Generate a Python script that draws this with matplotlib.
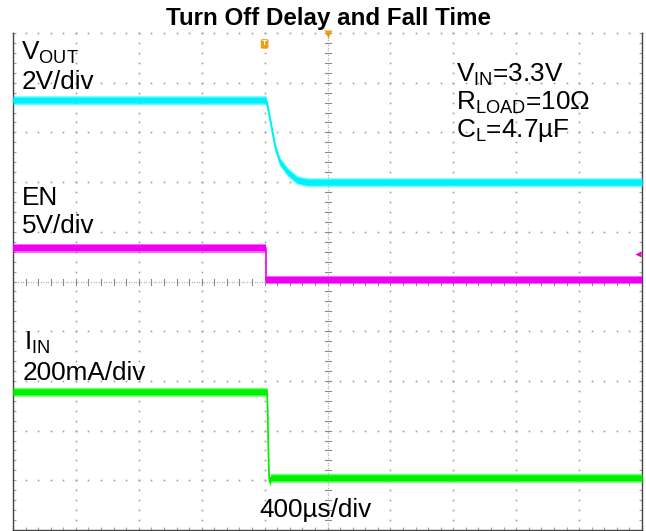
import numpy as np
import matplotlib
matplotlib.use("Agg")
import matplotlib.pyplot as plt

plt.rcParams['font.family'] = ['Liberation Sans', 'DejaVu Sans']
plt.rcParams['mathtext.default'] = 'regular'

# ---------------- data (time in µs, 400 µs/div; levels in screen divisions) -------------
title = "Turn Off Delay and Fall Time"
time_per_div = 400
t_start, t_end = -1600, 2400
n_xdiv, n_ydiv = 10, 10

vout_t = [-1600, 8, 20, 47, 67, 97, 145, 208, 270, 2400]
vout_div = [8.65, 8.65, 8.51, 8.05, 7.71, 7.41, 7.21, 7.04, 7.00, 7.00]

en_t = [-1600, 8, 8, 2400]
en_div = [5.67, 5.67, 5.03, 5.03]

iin_t = [-1600, 16, 20, 24, 28, 32, 40, 2400]
iin_div = [2.78, 2.78, 2.30, 1.60, 1.10, 0.96, 1.05, 1.05]

labels_left = ["V$_{OUT}$", "2V/div", "EN", "5V/div", "I$_{IN}$", "200mA/div"]
labels_right = ["V$_{IN}$=3.3V", "R$_{LOAD}$=10Ω", "C$_{L}$=4.7µF"]
timebase_label = "400µs/div"

# ---------------- figure ----------------
W, H = 646, 531
fig = plt.figure(figsize=(W / 100, H / 100), dpi=100)
fig.patch.set_facecolor("white")
ax = fig.add_axes([13 / W, 1 / H, 629 / W, 497 / H])
ax.set_xlim(t_start, t_end)
ax.set_ylim(0, n_ydiv)
ax.set_facecolor("white")

def px(x, y):
    return x / W, 1 - y / H

# grid dots
grid_c = "#a0a0a0"
minor_x = np.linspace(t_start, t_end, n_xdiv * 5 + 1)
minor_y = np.linspace(0, n_ydiv, n_ydiv * 5 + 1)
major_x = np.linspace(t_start, t_end, n_xdiv + 1)
major_y = np.linspace(0, n_ydiv, n_ydiv + 1)
cx = t_start + 5 * time_per_div
cy = 5
for yj in major_y[1:]:
    if yj == cy:
        continue
    ax.plot(minor_x, np.full_like(minor_x, yj), 's', ms=1.2, mec='none', color=grid_c, clip_on=False, zorder=1)
for xi in major_x[1:-1]:
    if xi == cx:
        continue
    ax.plot(np.full_like(minor_y, xi), minor_y, 's', ms=1.2, mec='none', color=grid_c, clip_on=False, zorder=1)

# centre axes: dense dots + ticks
dense_x = np.linspace(t_start, t_end, n_xdiv * 25 + 1)
dense_y = np.linspace(0, n_ydiv, n_ydiv * 20 + 1)
ax.plot(dense_x, np.full_like(dense_x, cy), 's', ms=0.9, mec='none', color="#b8b8b8", zorder=1)
ax.plot(np.full_like(dense_y, cx), dense_y, 's', ms=0.9, mec='none', color="#b8b8b8", zorder=1)
dx = 3 / 62.9 * time_per_div
dy = 3 / 49.7
for xm in minor_x:
    ax.plot([xm, xm], [cy - dy, cy + dy], color="#8a8a8a", lw=0.8, zorder=1)
for ym in minor_y:
    ax.plot([cx - dx, cx + dx], [ym, ym], color="#8a8a8a", lw=0.8, zorder=1)

# spines and edge ticks
for s in ["left", "bottom", "right"]:
    ax.spines[s].set_color("#444444")
    ax.spines[s].set_linewidth(1.0)
ax.spines["top"].set_visible(False)
ax.set_xticks(major_x)
ax.set_yticks(major_y)
ax.set_xticks(minor_x, minor=True)
ax.set_yticks(minor_y, minor=True)
ax.tick_params(which="both", direction="in", length=2.5, width=0.8, color="#a0a0a0",
               left=True, right=True, bottom=True, top=False,
               labelleft=False, labelbottom=False)

# traces
def trace(t, v, color, core):
    t = np.asarray(t, float)
    v = np.asarray(v, float)
    ax.fill_between(t, v - 0.09, v + 0.09, color=color, alpha=0.6, lw=0, zorder=3)
    ax.fill_between(t, v - 0.06, v + 0.06, color=core, lw=0, zorder=4)
    ax.plot(t, v, color=core, lw=1.2, zorder=4)

trace(vout_t, vout_div, "#00ffff", "#00f0fa")
trace(en_t, en_div, "#ff00ff", "#f000f0")
trace(iin_t, iin_div, "#00ff00", "#00f000")

# markers
ax.text(0, 9.78, "T", color="white", fontsize=6, fontweight="bold", ha="center", va="center",
        bbox=dict(boxstyle="round,pad=0.15", fc="#f39c12", ec="none"), zorder=6, clip_on=False)
ax.plot([cx], [n_ydiv - 0.03], 'v', ms=6, color="#f39c12", mec="none", clip_on=False, zorder=6)
ax.plot([t_end - 26], [5.55], '<', ms=4.5, color="#dd00dd", mec="none", clip_on=False, zorder=6)

# texts
fs = 18.8
fig.text(*px(328, 25), title, ha="center", va="baseline", fontsize=17.4, fontweight="bold")
left_pos = [(21, 60), (22, 89), (22, 205), (22, 233), (24, 350), (23, 380)]
for (x, y), s in zip(left_pos, labels_left):
    fig.text(*px(x, y), s, ha="left", va="baseline", fontsize=fs)
right_pos = [(456, 82), (456, 110), (456, 137)]
for (x, y), s in zip(right_pos, labels_right):
    fig.text(*px(x, y), s, ha="left", va="baseline", fontsize=fs)
fig.text(*px(315, 517), timebase_label, ha="center", va="baseline", fontsize=fs)

fig.savefig("out.png", dpi=100, facecolor="white")
